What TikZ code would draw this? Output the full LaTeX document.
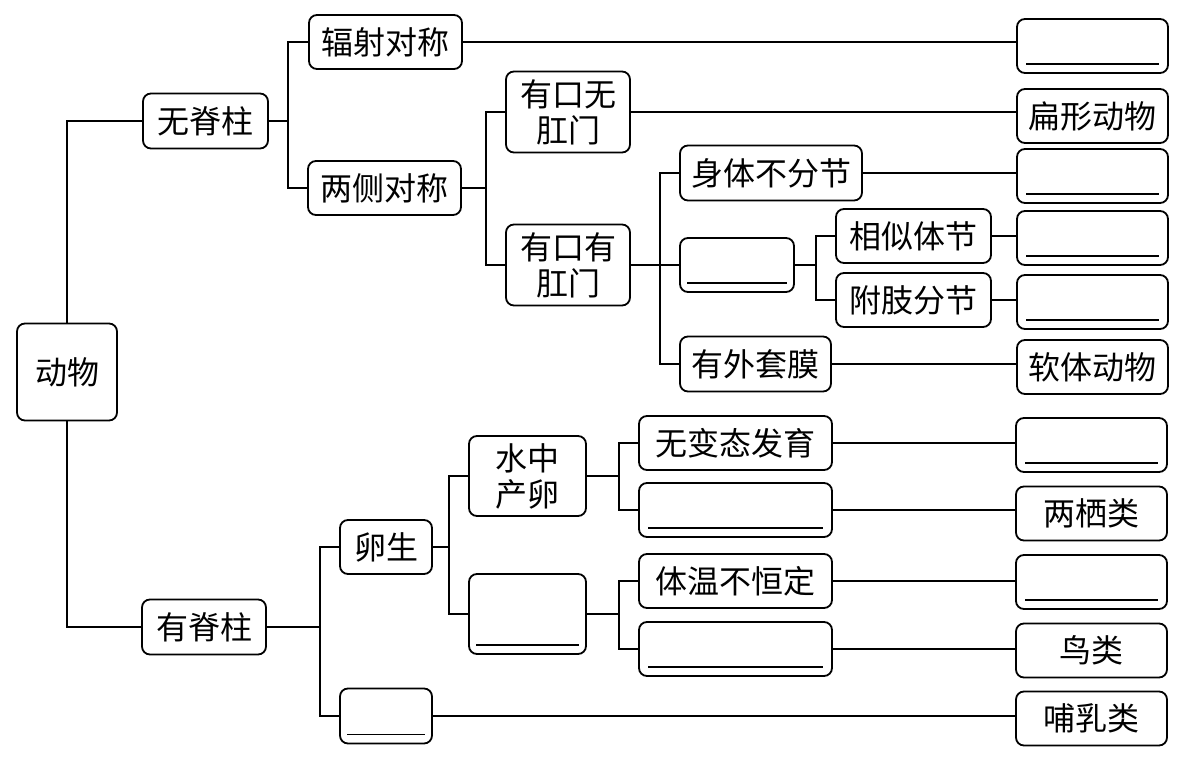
\documentclass[tikz,border=0pt]{standalone}
\usepackage{fontspec}
\newfontfamily\cjk{Noto Sans CJK SC}
\tikzset{
  box/.style={draw, line width=1.8pt, rounded corners=8pt, inner sep=0pt, align=center,
              font=\cjk\fontsize{32}{36}\selectfont},
  rbox/.style={box, minimum width=151pt, minimum height=54pt},
  mbox/.style={box, minimum width=193pt, minimum height=54pt},
  blankline/.style={path picture={\draw[line width=1.6pt]
      ([xshift=#1,yshift=9pt]path picture bounding box.south west) --
      ([xshift=-#1,yshift=9pt]path picture bounding box.south east);}},
  blankline/.default=9pt,
  conn/.style={line width=1.8pt},
}
\begin{document}
\begin{tikzpicture}[x=1pt,y=-1pt]
\useasboundingbox (0,0) rectangle (1189,762);
% root
\node[box, minimum width=100pt, minimum height=97pt] (dongwu) at (67,372) {动物};
% invertebrates
\node[box, minimum width=125pt, minimum height=55pt] (wujizhu) at (205.5,121) {无脊柱};
\node[box, minimum width=153pt, minimum height=54pt] (fushe) at (385.5,42) {辐射对称};
\node[box, minimum width=153pt, minimum height=54pt] (liangce) at (384.5,188) {两侧对称};
\node[rbox, blankline] (r1) at (1092.5,46) {};
\node[box, minimum width=124pt, minimum height=81pt] (youkouwu) at (568,112) {有口无\\肛门};
\node[rbox] (bianxing) at (1092.5,116) {扁形动物};
\node[box, minimum width=124pt, minimum height=81pt] (youkouyou) at (568,265) {有口有\\肛门};
\node[box, minimum width=182pt, minimum height=55pt] (shenti) at (771,173) {身体不分节};
\node[rbox, blankline] (r3) at (1092.5,176) {};
\node[box, minimum width=114pt, minimum height=54pt, blankline=7pt] (huanjie) at (737,265) {};
\node[box, minimum width=155pt, minimum height=54pt] (xiangsi) at (913.5,236) {相似体节};
\node[box, minimum width=155pt, minimum height=54pt] (fuzhi) at (913.5,300) {附肢分节};
\node[rbox, blankline] (r4) at (1092.5,238) {};
\node[rbox, blankline] (r5) at (1092.5,302) {};
\node[box, minimum width=151pt, minimum height=55pt] (youwai) at (755.5,364) {有外套膜};
\node[rbox] (ruanti) at (1092.5,367) {软体动物};
% vertebrates
\node[box, minimum width=124pt, minimum height=55pt] (youjizhu) at (204,627) {有脊柱};
\node[box, minimum width=92pt, minimum height=54pt] (luansheng) at (386,547) {卵生};
\node[box, minimum width=92pt, minimum height=55pt, blankline=7pt] (taisheng) at (386,716) {};
\node[box, minimum width=117pt, minimum height=80pt] (shuizhong) at (527.5,476) {水中\\产卵};
\node[box, minimum width=117pt, minimum height=80pt, blankline=7pt] (ludi) at (527.5,614) {};
\node[mbox] (wubiantai) at (735.5,443) {无变态发育};
\node[mbox, blankline] (biantai) at (735.5,510) {};
\node[mbox] (tiwen) at (735.5,581) {体温不恒定};
\node[mbox, blankline] (hengding) at (735.5,649) {};
\node[rbox, blankline] (rA) at (1091.5,445) {};
\node[rbox] (liangqi) at (1091.5,513.5) {两栖类};
\node[rbox, blankline] (rC) at (1091.5,582) {};
\node[rbox] (niao) at (1091.5,650.5) {鸟类};
\node[rbox] (buru) at (1091.5,718.5) {哺乳类};
% connectors
\draw[conn] (dongwu.north) |- (wujizhu.west);
\draw[conn] (dongwu.south) |- (youjizhu.west);
\draw[conn] (wujizhu.east) -- ++(19,0) |- (fushe.west);
\draw[conn] (wujizhu.east) -- ++(19,0) |- (liangce.west);
\draw[conn] (fushe.east) -- (fushe.east -| r1.west);
\draw[conn] (liangce.east) -- ++(24,0) |- (youkouwu.west);
\draw[conn] (liangce.east) -- ++(24,0) |- (youkouyou.west);
\draw[conn] (youkouwu.east) -- (youkouwu.east -| bianxing.west);
\draw[conn] (youkouyou.east) -- ++(29,0) |- (shenti.west);
\draw[conn] (youkouyou.east) -- ++(29,0) |- (huanjie.west);
\draw[conn] (youkouyou.east) -- ++(29,0) |- (youwai.west);
\draw[conn] (shenti.east) -- (shenti.east -| r3.west);
\draw[conn] (huanjie.east) -- ++(21,0) |- (xiangsi.west);
\draw[conn] (huanjie.east) -- ++(21,0) |- (fuzhi.west);
\draw[conn] (xiangsi.east) -- (xiangsi.east -| r4.west);
\draw[conn] (fuzhi.east) -- (fuzhi.east -| r5.west);
\draw[conn] (youwai.east) -- (youwai.east -| ruanti.west);
\draw[conn] (youjizhu.east) -- ++(53,0) |- (luansheng.west);
\draw[conn] (youjizhu.east) -- ++(53,0) |- (taisheng.west);
\draw[conn] (luansheng.east) -- ++(16,0) |- (shuizhong.west);
\draw[conn] (luansheng.east) -- ++(16,0) |- (ludi.west);
\draw[conn] (shuizhong.east) -- ++(32,0) |- (wubiantai.west);
\draw[conn] (shuizhong.east) -- ++(32,0) |- (biantai.west);
\draw[conn] (ludi.east) -- ++(32,0) |- (tiwen.west);
\draw[conn] (ludi.east) -- ++(32,0) |- (hengding.west);
\draw[conn] (wubiantai.east) -- (wubiantai.east -| rA.west);
\draw[conn] (biantai.east) -- (biantai.east -| liangqi.west);
\draw[conn] (tiwen.east) -- (tiwen.east -| rC.west);
\draw[conn] (hengding.east) -- (hengding.east -| niao.west);
\draw[conn] (taisheng.east) -- (taisheng.east -| buru.west);
\end{tikzpicture}
\end{document}
